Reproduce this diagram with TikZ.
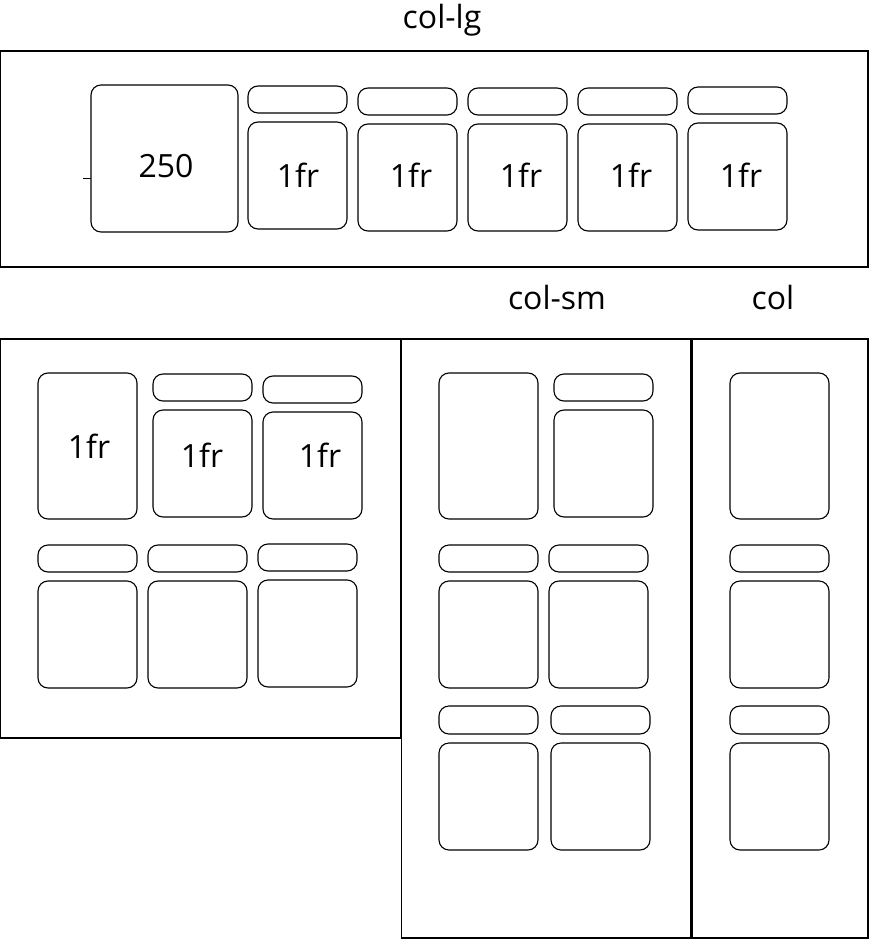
\documentclass[tikz,border=0pt]{standalone}
\usepackage{fontspec}
\setmainfont{Open Sans}
\tikzset{
  cell/.style={draw, rounded corners=10pt, line width=1.1pt, inner sep=0pt, outer sep=0pt},
  frame/.style={draw, line width=1.4pt, inner sep=0pt, outer sep=0pt},
  lbl/.style={anchor=base, inner sep=0pt, font=\fontsize{32}{38}\selectfont}
}
\newcommand\cellbox[6]{\node[#1, minimum width={(#5-#3)*1pt}, minimum height={(#6-#4)*1pt}] (#2) at ({(#3+#5)/2},{(#4+#6)/2}) {};}
\begin{document}
\begin{tikzpicture}[x=1pt,y=-1pt]
\useasboundingbox (0,0) rectangle (869,939);
% titles
\node[lbl] (tlg) at (442,29) {col-lg};
\node[lbl] (tsm) at (557,309) {col-sm};
\node[lbl] (tcol) at (773,309) {col};
% frames
\cellbox{frame}{flg}{0.7}{51}{868}{267}
\cellbox{frame}{fmd}{0.7}{339}{400.5}{738}
\cellbox{frame}{fsm}{401.5}{339}{691}{938}
\cellbox{frame}{fxs}{692}{339}{868}{938}
% col-lg row
\cellbox{cell}{a250}{91}{85}{238}{232}
\coordinate (tick) at (83,178);
\draw[line width=0.8pt] (tick) -- (a250.west |- tick);
\cellbox{cell}{h1}{248}{86}{347}{113}
\cellbox{cell}{b1}{248}{122}{347}{229}
\cellbox{cell}{h2}{358}{88}{457}{115}
\cellbox{cell}{b2}{358}{124}{457}{231}
\cellbox{cell}{h3}{468}{88}{567}{115}
\cellbox{cell}{b3}{468}{124}{567}{231}
\cellbox{cell}{h4}{578}{88}{677}{115}
\cellbox{cell}{b4}{578}{124}{677}{231}
\cellbox{cell}{h5}{688}{87}{787}{114}
\cellbox{cell}{b5}{688}{123}{787}{230}
\node[lbl] (l250) at (166,177) {250};
\node[lbl] (lb1) at (298,187) {1fr};
\node[lbl] (lb2) at (411,187) {1fr};
\node[lbl] (lb3) at (521,187) {1fr};
\node[lbl] (lb4) at (631,187) {1fr};
\node[lbl] (lb5) at (741,187) {1fr};
% medium frame
\cellbox{cell}{m1}{38}{373}{137}{519}
\cellbox{cell}{mh2}{153}{374}{252}{401}
\cellbox{cell}{m2}{153}{410}{252}{517}
\cellbox{cell}{mh3}{263}{376}{362}{403}
\cellbox{cell}{m3}{263}{412}{362}{519}
\cellbox{cell}{mh4}{38}{545}{137}{572}
\cellbox{cell}{m4}{38}{581}{137}{688}
\cellbox{cell}{mh5}{148}{545}{247}{572}
\cellbox{cell}{m5}{148}{581}{247}{688}
\cellbox{cell}{mh6}{258}{544}{357}{571}
\cellbox{cell}{m6}{258}{580}{357}{687}
\node[lbl] (lm1) at (89,458) {1fr};
\node[lbl] (lm2) at (202,467) {1fr};
\node[lbl] (lm3) at (320,467) {1fr};
% small frame
\cellbox{cell}{s1}{439}{373}{538}{519}
\cellbox{cell}{sh2}{554}{374}{653}{401}
\cellbox{cell}{s2}{554}{410}{653}{517}
\cellbox{cell}{sh3}{439}{545}{538}{572}
\cellbox{cell}{s3}{439}{581}{538}{688}
\cellbox{cell}{sh4}{549}{545}{648}{572}
\cellbox{cell}{s4}{549}{581}{648}{688}
\cellbox{cell}{sh5}{439}{706}{538}{734}
\cellbox{cell}{s5}{439}{743}{538}{850}
\cellbox{cell}{sh6}{551}{706}{650}{734}
\cellbox{cell}{s6}{551}{743}{650}{850}
% xs frame
\cellbox{cell}{x1}{730}{373}{829}{519}
\cellbox{cell}{xh2}{730}{545}{829}{572}
\cellbox{cell}{x2}{730}{581}{829}{688}
\cellbox{cell}{xh3}{730}{706}{829}{734}
\cellbox{cell}{x3}{730}{743}{829}{850}
\end{tikzpicture}
\end{document}
